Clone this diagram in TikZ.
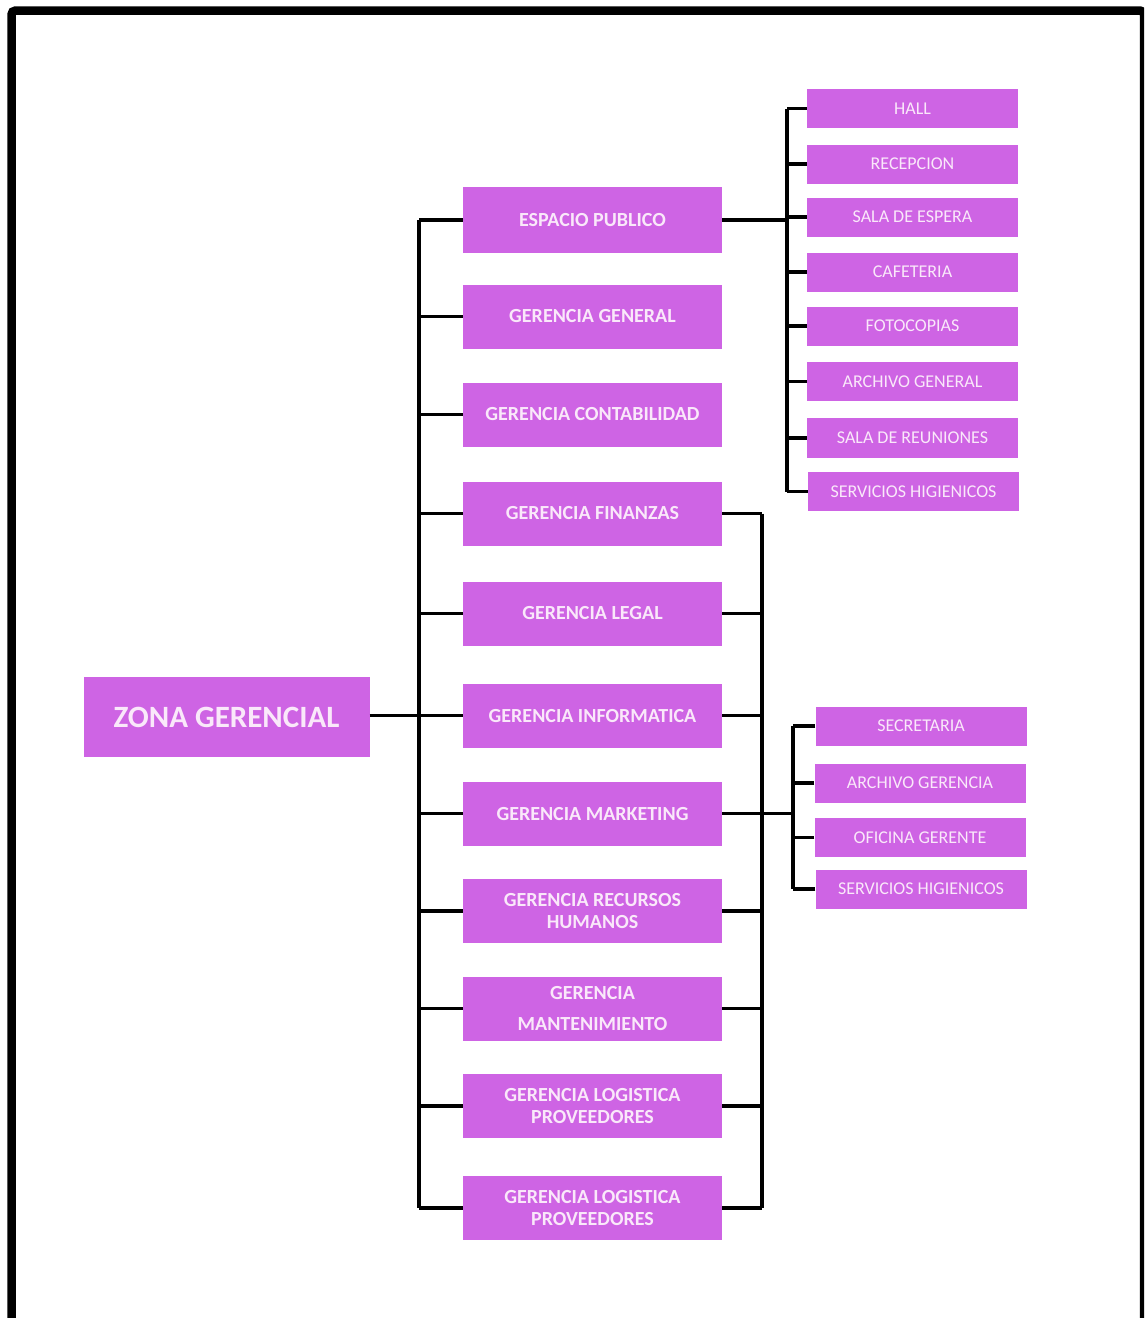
\documentclass[tikz,border=0pt]{standalone}
\usepackage{fontspec}
\setmainfont{Carlito}
\definecolor{boxpurple}{RGB}{206,100,228}
\definecolor{boxtext}{RGB}{250,232,250}
\begin{document}
\begin{tikzpicture}[x=1pt,y=-1pt,
  box/.style={fill=boxpurple,draw=none,inner sep=0pt,anchor=center,text=boxtext,align=center},
  midbox/.style={box,minimum width=259pt,minimum height=64pt,font=\fontsize{20}{22}\selectfont\bfseries},
  subbox/.style={box,minimum width=211pt,minimum height=39pt,font=\fontsize{18}{20}\selectfont},
  conn/.style={line width=3.3pt,draw=black}]
\useasboundingbox (0,0) rectangle (1144,1318);
\begin{scope}
\clip (0,0) rectangle (1144,1318);
\draw[line width=8.5pt,rounded corners=4pt] (11.5,10.5) rectangle (1144,1340);
\end{scope}

% root
\node[box,minimum width=286pt,minimum height=80pt,font=\fontsize{31}{34}\selectfont\bfseries] (zona) at (226.5,717) {ZONA GERENCIAL};

% middle column
\node[midbox,minimum height=66pt] (esp) at (592.5,220) {ESPACIO PUBLICO};
\node[midbox] (gen) at (592.5,316.5) {GERENCIA GENERAL};
\node[midbox] (con) at (592.5,414.5) {GERENCIA CONTABILIDAD};
\node[midbox] (fin) at (592.5,513.5) {GERENCIA FINANZAS};
\node[midbox] (leg) at (592.5,613.5) {GERENCIA LEGAL};
\node[midbox] (inf) at (592.5,715.5) {GERENCIA INFORMATICA};
\node[midbox] (mkt) at (592.5,813.5) {GERENCIA MARKETING};
\node[midbox] (rrh) at (592.5,911) {GERENCIA RECURSOS\\HUMANOS};
\node[midbox,font=\fontsize{20}{31}\selectfont\bfseries] (man) at (592.5,1008.5) {GERENCIA\\MANTENIMIENTO};
\node[midbox] (log1) at (592.5,1106) {GERENCIA LOGISTICA\\PROVEEDORES};
\node[midbox] (log2) at (592.5,1208) {GERENCIA LOGISTICA\\PROVEEDORES};

% top-right group
\node[subbox] (hall) at (912.5,108.5) {HALL};
\node[subbox] (rec) at (912.5,164) {RECEPCION};
\node[subbox] (sal) at (912.5,217) {SALA DE ESPERA};
\node[subbox] (caf) at (912.5,272) {CAFETERIA};
\node[subbox] (fot) at (912.5,326) {FOTOCOPIAS};
\node[subbox] (arg) at (912.5,381.5) {ARCHIVO GENERAL};
\node[subbox,minimum height=40pt] (reu) at (912.5,438) {SALA DE REUNIONES};
\node[subbox] (shA) at (913.5,491.5) {SERVICIOS HIGIENICOS};

% marketing group
\node[subbox] (sec) at (921,726) {SECRETARIA};
\node[subbox] (arc) at (920,783) {ARCHIVO GERENCIA};
\node[subbox] (ofi) at (920,837.5) {OFICINA GERENTE};
\node[subbox] (shB) at (921,889) {SERVICIOS HIGIENICOS};

% bus coordinates
\coordinate (bL) at (419,0);
\coordinate (bR) at (762,0);
\coordinate (bA) at (787,0);
\coordinate (bB) at (793,0);

% left bus
\draw[conn] (esp.west -| bL) -- (log2.west -| bL);
\foreach \n in {esp,gen,con,fin,leg,mkt,rrh,man,log1,log2}
  \draw[conn] (\n.west) -- (\n.west -| bL);
\draw[conn] (zona.east |- inf.west) -- (inf.west);

% right bus
\draw[conn] (fin.east -| bR) -- (log2.east -| bR);
\foreach \n in {fin,leg,inf,rrh,man,log1,log2}
  \draw[conn] (\n.east) -- (\n.east -| bR);
\draw[conn] (mkt.east) -- (mkt.east -| bB);

% top-right bus
\draw[conn] (hall.west -| bA) -- (shA.west -| bA);
\foreach \n in {hall,rec,sal,caf,fot,arg,reu,shA}
  \draw[conn] (\n.west) -- (\n.west -| bA);
\draw[conn] (esp.east) -- (esp.east -| bA);

% marketing bus
\draw[conn] (sec.west -| bB) -- (shB.west -| bB);
\foreach \n in {sec,arc,ofi,shB}
  \draw[conn] (\n.west) -- (\n.west -| bB);
\end{tikzpicture}
\end{document}
